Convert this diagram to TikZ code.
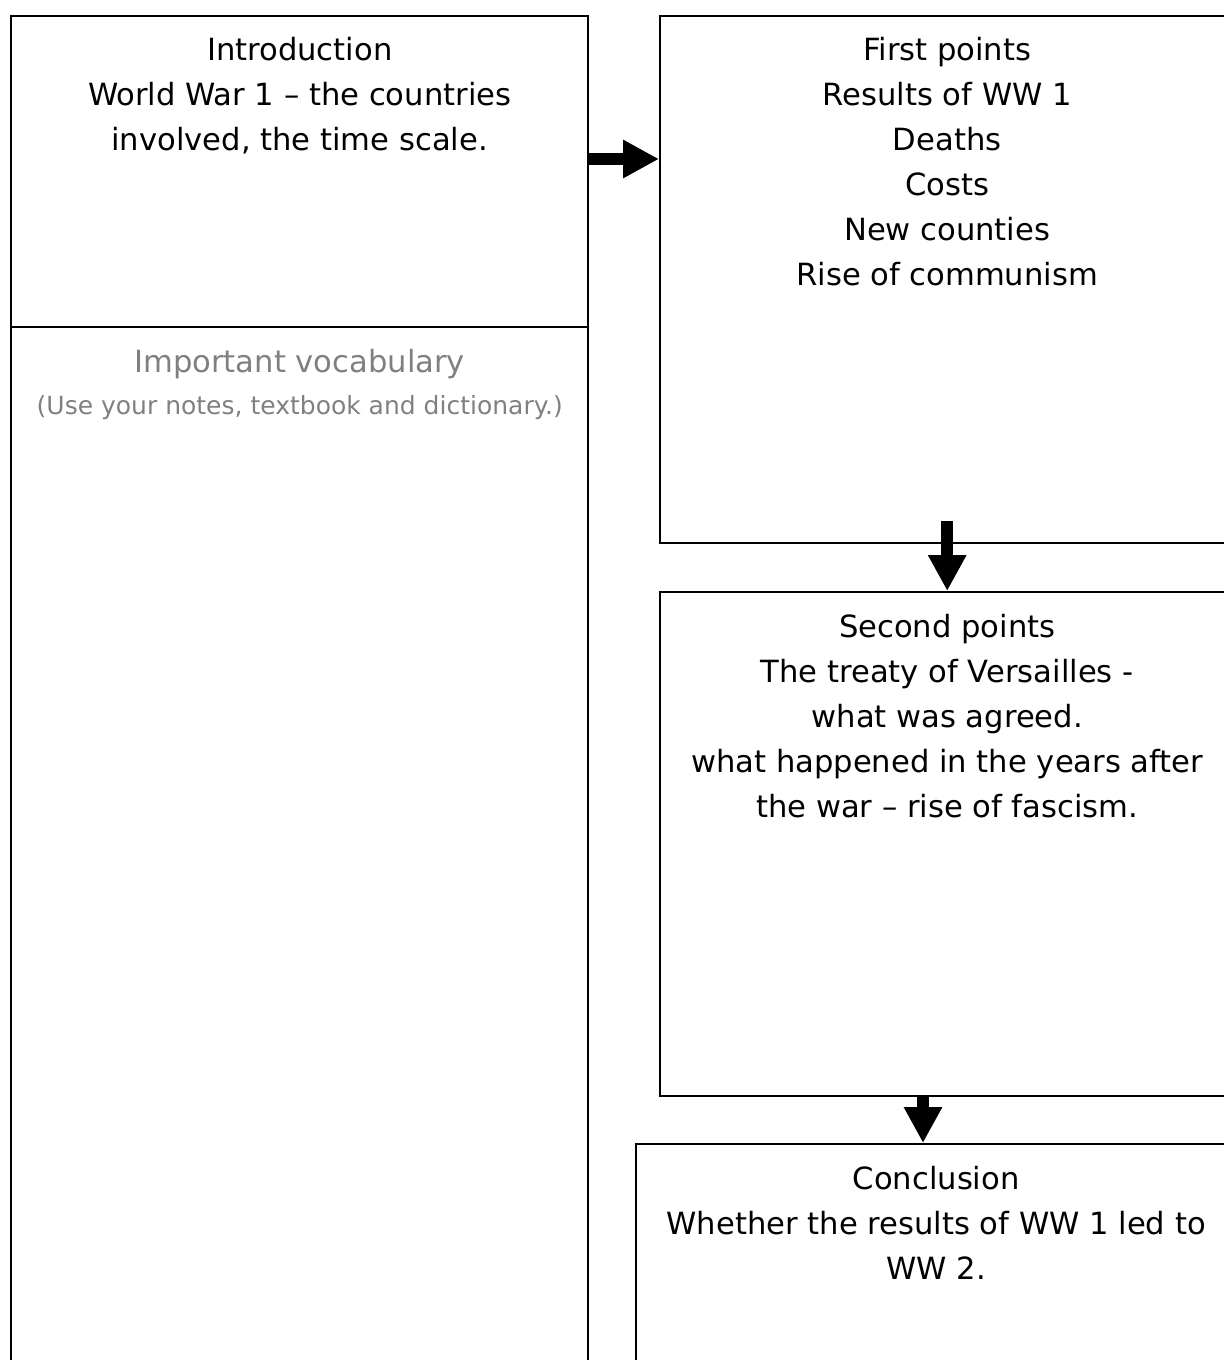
\documentclass[tikz,border=0pt]{standalone}
\usepackage{fontspec}
\setmainfont{DejaVu Sans}
\usetikzlibrary{arrows.meta}
\begin{document}
\begin{tikzpicture}[
		x={(0.5pt,0pt)},
		y={(0pt,-0.5pt)},
		box/.style={draw=black,line width=1.2pt,anchor=north west,inner sep=0pt},
		txt/.style={align=center,anchor=north,inner sep=0pt,font=\fontsize{15.3}{22.5}\selectfont},
		bigarrow/.style={line width=6pt,-{Triangle[width=18pt,length=18pt]}},
	]
		\useasboundingbox (0,0) rectangle (1224,1360);
		\clip (0,0) rectangle (1224,1360);
		
		\node[box,minimum width=288.5pt,minimum height=155.5pt] (intro) at (10,15) {};
		\node[box,minimum width=288.5pt,minimum height=540pt] (vocab) at (10,326) {};
		\node[box,minimum width=287pt,minimum height=263.5pt] (first) at (659,15) {};
		\node[box,minimum width=287pt,minimum height=252pt] (second) at (659,591) {};
		\node[box,minimum width=300pt,minimum height=300pt] (concl) at (635,1143) {};
		
		\node[txt] (introtxt) at (intro.north |- 0,37) {Introduction\\World War 1 – the countries\\involved, the time scale.};
		\node[txt,text=black!50] (vocabtxt) at (vocab.north |- 0,349) {Important vocabulary};
		\node[txt,text=black!50,font=\fontsize{12.5}{15}\selectfont] (vocabnote) at (vocab.north |- 0,395) {(Use your notes, textbook and dictionary.)};
		\node[txt] (firsttxt) at (first.north |- 0,37) {First points\\Results of WW 1\\Deaths\\Costs\\New counties\\Rise of communism};
		\node[txt] (secondtxt) at (second.north |- 0,614) {Second points\\The treaty of Versailles -\\what was agreed.\\what happened in the years after\\the war – rise of fascism.};
		\node[txt] (concltxt) at (concl.north |- 0,1166) {Conclusion\\Whether the results of WW 1 led to\\WW 2.};
		
		\draw[bigarrow] (intro.east |- 0,159) -- (first.west |- 0,159);
		\draw[bigarrow] ([yshift=11.5pt]first.south) -- (second.north);
		\draw[bigarrow] (second.south -| 923,0) -- (concl.north -| 923,0);
	\end{tikzpicture}
\end{document}
